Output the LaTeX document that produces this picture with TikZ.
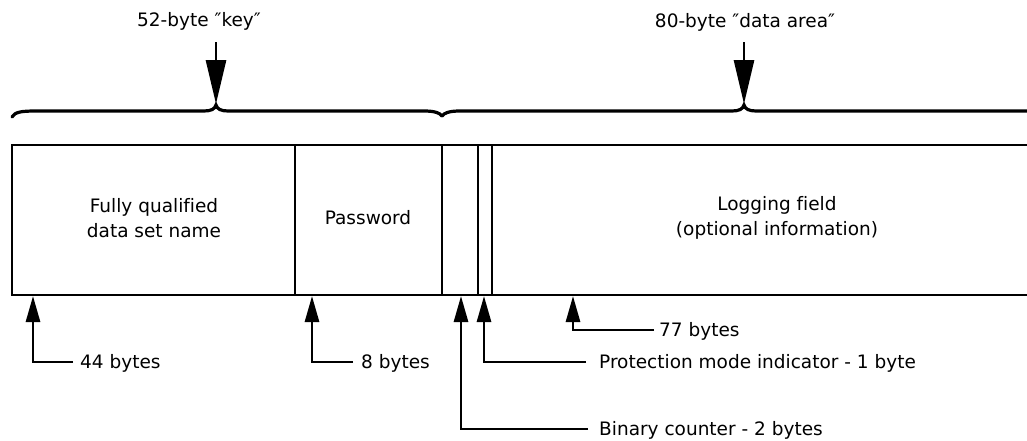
\documentclass[tikz,border=0pt]{standalone}
\usepackage{fontspec}
\setmainfont{DejaVu Sans}[Ligatures=NoCommon]
\usetikzlibrary{arrows.meta}
\begin{document}
\begin{tikzpicture}[x=1pt,y=-1pt,
  lbl/.style={font=\fontsize{18.5}{22}\selectfont, inner sep=0pt, text height=13.3pt, text depth=0pt},
  boxtxt/.style={font=\fontsize{18.5}{25}\selectfont, inner sep=0pt, align=center},
  boxline/.style={line width=2.4pt},
  divline/.style={line width=2pt},
  bracestyle/.style={line width=3.2pt, line cap=round},
  bigarrow/.style={line width=2.8pt, -{Triangle[length=44pt,width=20pt]}},
  smallarrow/.style={line width=2.8pt, -{Triangle[length=26pt,width=14pt]}}
]
\useasboundingbox (0,0) rectangle (1027,440);

% record box
\draw[boxline] (1030,145) -- (12,145) -- (12,295) -- (1030,295);
\draw[divline] (295,145) -- (295,295);
\draw[divline] (442,145) -- (442,295);
\draw[divline] (478,145) -- (478,295);
\draw[divline] (492,145) -- (492,295);

% texts inside the box
\node[boxtxt] (fqn) at (154,218) {Fully qualified\\data set name};
\node[boxtxt] (pwd) at (368,218) {Password};
\node[boxtxt] (log) at (777,218) {Logging field\\(optional information)};

% braces
\coordinate (ktip) at (216,105);
\coordinate (dtip) at (744,105);
\coordinate (bjoin) at (442,116);
\draw[bracestyle] (12,117) .. controls (15,112) and (21,111) .. (36,111) -- (204,111)
  .. controls (211,111) and (215,109) .. (ktip)
  .. controls (217,109) and (221,111) .. (228,111) -- (424,111)
  .. controls (435,111) and (440,113) .. (bjoin);
\draw[bracestyle] (bjoin) .. controls (444,113) and (449,111) .. (460,111) -- (732,111)
  .. controls (739,111) and (743,109) .. (dtip)
  .. controls (745,109) and (749,111) .. (756,111) -- (1030,111);

% top labels and arrows
\node[lbl] (tkey) at (199,20) {52-byte ″key″};
\node[lbl] (tdata) at (745,21) {80-byte ″data area″};
\coordinate (kstart) at (216,42);
\coordinate (dstart) at (744,42);
\draw[bigarrow] (kstart) -- ([yshift=1pt]ktip);
\draw[bigarrow] (dstart) -- ([yshift=1pt]dtip);

% bottom pointers
\coordinate (p44) at (33,296);
\coordinate (p8) at (312,296);
\coordinate (pbin) at (461,296);
\coordinate (pprot) at (484,296);
\coordinate (p77) at (573,296);

\node[lbl,anchor=west] (t44) at (80,362) {44 bytes};
\node[lbl,anchor=west] (t8) at (361,362) {8 bytes};
\node[lbl,anchor=west] (t77) at (659,330) {77 bytes};
\node[lbl,anchor=west] (tprot) at (599,362) {Protection mode indicator - 1 byte};
\node[lbl,anchor=west] (tbin) at (599,429) {Binary counter - 2 bytes};

\draw[smallarrow] ([xshift=-7pt]t44.west) -| (p44);
\draw[smallarrow] ([xshift=-8pt]t8.west) -| (p8);
\draw[smallarrow] ([xshift=-5pt]t77.west) -| (p77);
\draw[smallarrow] ([xshift=-13pt]tprot.west) -| (pprot);
\draw[smallarrow] ([xshift=-11pt]tbin.west) -| (pbin);
\end{tikzpicture}
\end{document}
